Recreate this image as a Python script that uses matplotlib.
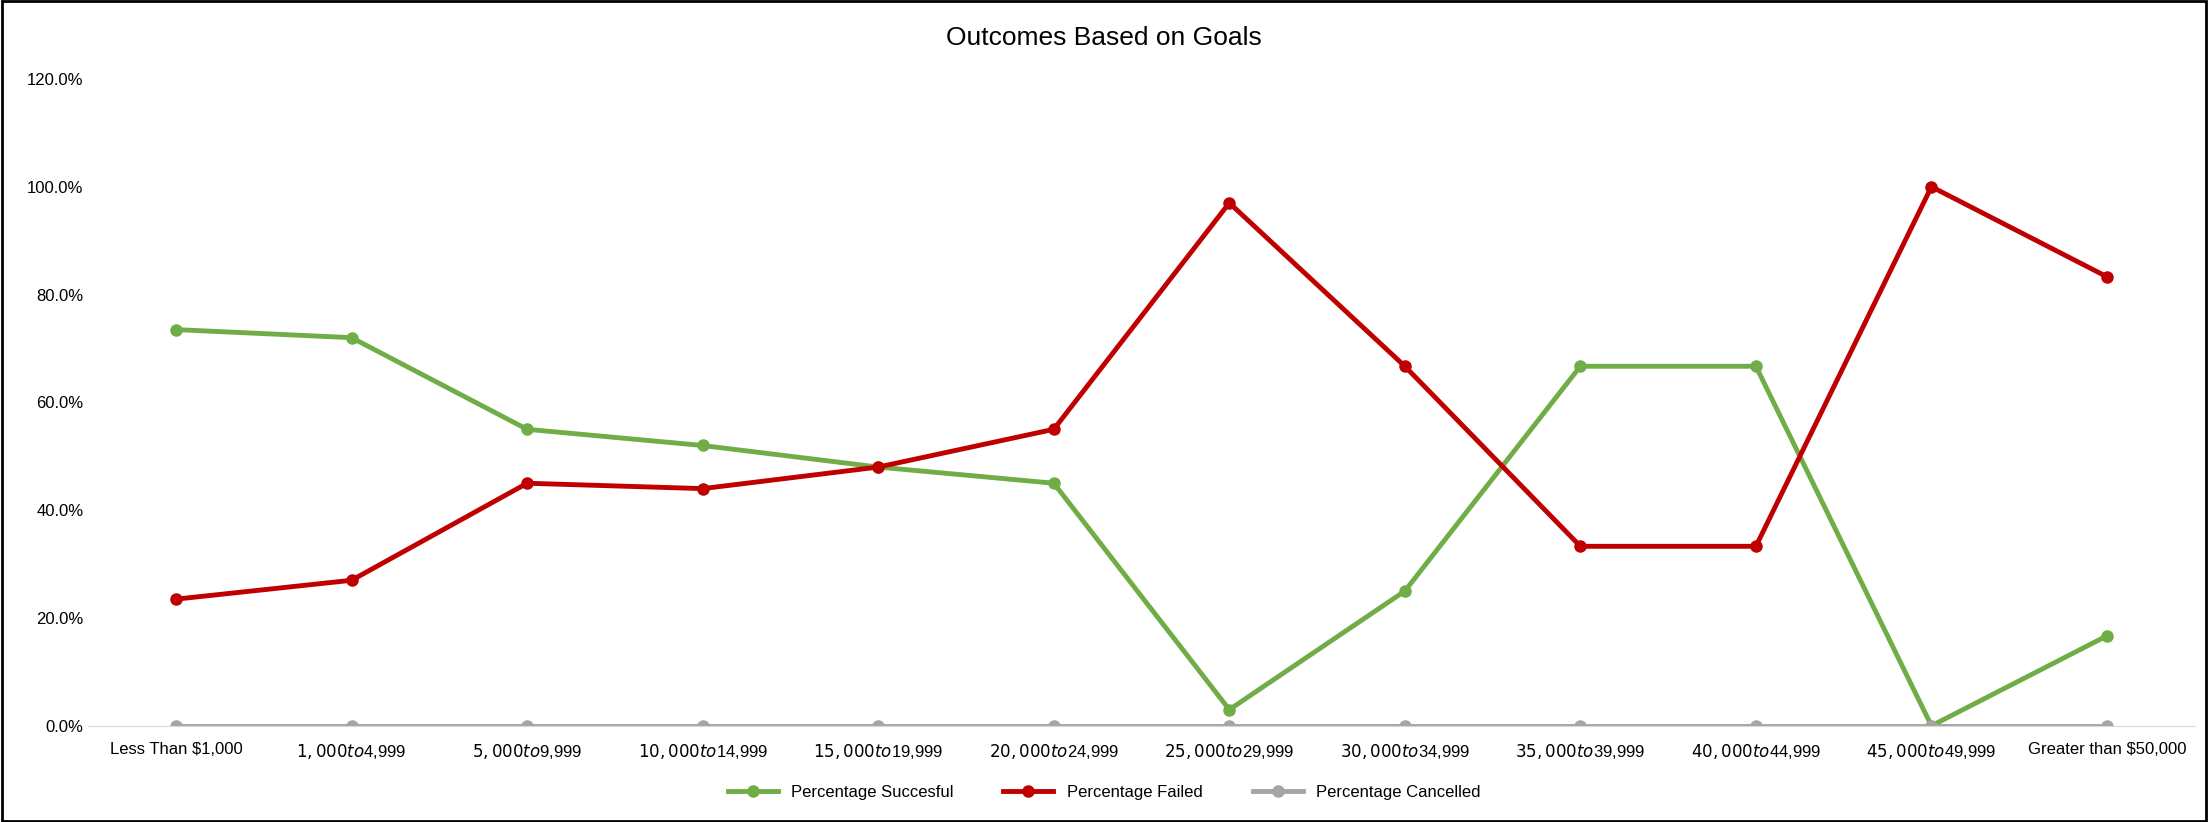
import matplotlib.pyplot as plt
from matplotlib.ticker import PercentFormatter

categories = ["Less Than $1,000", "$1,000 to $4,999", "$5,000 to $9,999", "$10,000 to $14,999",
              "$15,000 to $19,999", "$20,000 to $24,999", "$25,000 to $29,999", "$30,000 to $34,999",
              "$35,000 to $39,999", "$40,000 to $44,999", "$45,000 to $49,999", "Greater than $50,000"]
pct_successful = [73.5, 72.0, 55.0, 52.0, 48.0, 45.0, 3.0, 25.0, 66.7, 66.7, 0.0, 16.7]
pct_failed = [23.5, 27.0, 45.0, 44.0, 48.0, 55.0, 97.0, 66.7, 33.3, 33.3, 100.0, 83.3]
pct_cancelled = [0.0] * 12

plt.rcParams['font.family'] = ['Liberation Sans', 'DejaVu Sans']
fig = plt.figure(figsize=(22.08, 8.22), dpi=100)
ax = fig.add_axes([0.040, 0.117, 0.954, 0.787])

x = range(len(categories))
ax.plot(x, pct_successful, color='#70ad47', lw=3.5, marker='o', ms=8, label='Percentage Succesful')
ax.plot(x, pct_failed, color='#c00000', lw=3.5, marker='o', ms=8, label='Percentage Failed')
ax.plot(x, pct_cancelled, color='#a5a5a5', lw=3.5, marker='o', ms=8, label='Percentage Cancelled')

ax.set_xlim(-0.5, len(categories) - 0.5)
ax.set_ylim(0, 120)
ax.set_yticks(range(0, 121, 20))
ax.yaxis.set_major_formatter(PercentFormatter(decimals=1))
ax.set_xticks(list(x))
ax.set_xticklabels(categories)
ax.tick_params(labelsize=12, length=0)
ax.tick_params(axis='x', pad=12)
for s in ['top', 'right', 'left']:
    ax.spines[s].set_visible(False)
ax.spines['bottom'].set_color('#d9d9d9')

fig.suptitle('Outcomes Based on Goals', y=0.968, fontsize=19)
fig.legend(loc='center', bbox_to_anchor=(0.5, 0.036), ncol=3, frameon=False, fontsize=12,
           handlelength=3, columnspacing=3)
fig.patches.append(plt.Rectangle((0.001, 0.001), 0.998, 0.998, transform=fig.transFigure,
                                 fill=False, edgecolor='black', lw=2))
fig.savefig('out.png')
